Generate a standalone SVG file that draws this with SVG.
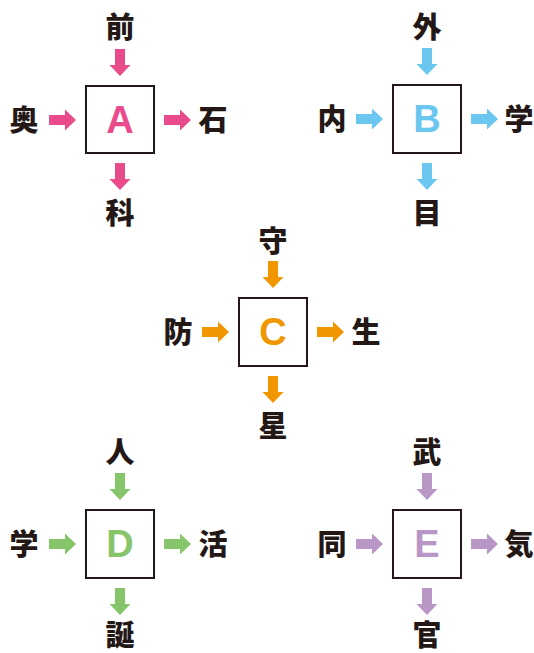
<svg xmlns="http://www.w3.org/2000/svg" xmlns:xlink="http://www.w3.org/1999/xlink" width="534" height="653" viewBox="0 0 534 653">
<style>
.box{fill:#fff;stroke:#231815;stroke-width:2}
.k{font-family:"Noto Sans CJK JP","Noto Sans CJK SC",sans-serif;font-weight:900;font-size:29px;fill:#231815;text-anchor:middle}
.L{font-family:"Liberation Sans",Arial,sans-serif;font-weight:bold;font-size:38px;text-anchor:middle}
.pink{fill:#E94B8C}.blue{fill:#6CC7F0}.orange{fill:#F29600}.green{fill:#86C56A}.purple{fill:#B896C6}
</style>
<defs>
<path id="arr" d="M0,-5 H16 V-10.5 L27,0 L16,10.5 V5 H0 Z"/>
</defs>
<rect width="534" height="653" fill="#fff"/>
<g id="connectors">
<g class="pink">
<use href="#arr" transform="translate(120,49) rotate(90)"/>
<use href="#arr" transform="translate(49,120)"/>
<use href="#arr" transform="translate(164,120)"/>
<use href="#arr" transform="translate(120,163) rotate(90)"/>
</g>
<g class="blue">
<use href="#arr" transform="translate(427,48) rotate(90)"/>
<use href="#arr" transform="translate(356,119)"/>
<use href="#arr" transform="translate(471,119)"/>
<use href="#arr" transform="translate(427,163) rotate(90)"/>
</g>
<g class="orange">
<use href="#arr" transform="translate(273,261) rotate(90)"/>
<use href="#arr" transform="translate(202,332)"/>
<use href="#arr" transform="translate(317,332)"/>
<use href="#arr" transform="translate(273,376) rotate(90)"/>
</g>
<g class="green">
<use href="#arr" transform="translate(120,473) rotate(90)"/>
<use href="#arr" transform="translate(49,544)"/>
<use href="#arr" transform="translate(164,544)"/>
<use href="#arr" transform="translate(120,588) rotate(90)"/>
</g>
<g class="purple">
<use href="#arr" transform="translate(427,473) rotate(90)"/>
<use href="#arr" transform="translate(356,544)"/>
<use href="#arr" transform="translate(471,544)"/>
<use href="#arr" transform="translate(427,588) rotate(90)"/>
</g>
</g>
<g id="nodeA"><rect class="box" x="86" y="86" width="68" height="67"/><text class="L pink" x="120" y="133">A</text></g>
<g id="nA-top"><text class="k" x="120" y="38">前</text></g>
<g id="nA-left"><text class="k" x="24" y="131">奥</text></g>
<g id="nA-right"><text class="k" x="213" y="131">石</text></g>
<g id="nA-bottom"><text class="k" x="120" y="224">科</text></g>

<g id="nodeB"><rect class="box" x="393" y="85" width="68" height="68"/><text class="L blue" x="427" y="132">B</text></g>
<g id="nB-top"><text class="k" x="427" y="38">外</text></g>
<g id="nB-left"><text class="k" x="332" y="130">内</text></g>
<g id="nB-right"><text class="k" x="519" y="130">学</text></g>
<g id="nB-bottom"><text class="k" x="427" y="224">目</text></g>

<g id="nodeC"><rect class="box" x="239" y="298" width="68" height="68"/><text class="L orange" x="273" y="345">C</text></g>
<g id="nC-top"><text class="k" x="273" y="252">守</text></g>
<g id="nC-left"><text class="k" x="178" y="343">防</text></g>
<g id="nC-right"><text class="k" x="366" y="343">生</text></g>
<g id="nC-bottom"><text class="k" x="273" y="437">星</text></g>

<g id="nodeD"><rect class="box" x="86" y="510" width="68" height="68"/><text class="L green" x="120" y="557">D</text></g>
<g id="nD-top"><text class="k" x="120" y="463">人</text></g>
<g id="nD-left"><text class="k" x="24" y="555">学</text></g>
<g id="nD-right"><text class="k" x="213" y="555">活</text></g>
<g id="nD-bottom"><text class="k" x="120" y="646">誕</text></g>

<g id="nodeE"><rect class="box" x="393" y="510" width="68" height="68"/><text class="L purple" x="427" y="557">E</text></g>
<g id="nE-top"><text class="k" x="427" y="463">武</text></g>
<g id="nE-left"><text class="k" x="332" y="555">同</text></g>
<g id="nE-right"><text class="k" x="519" y="555">気</text></g>
<g id="nE-bottom"><text class="k" x="427" y="646">官</text></g>
</svg>
